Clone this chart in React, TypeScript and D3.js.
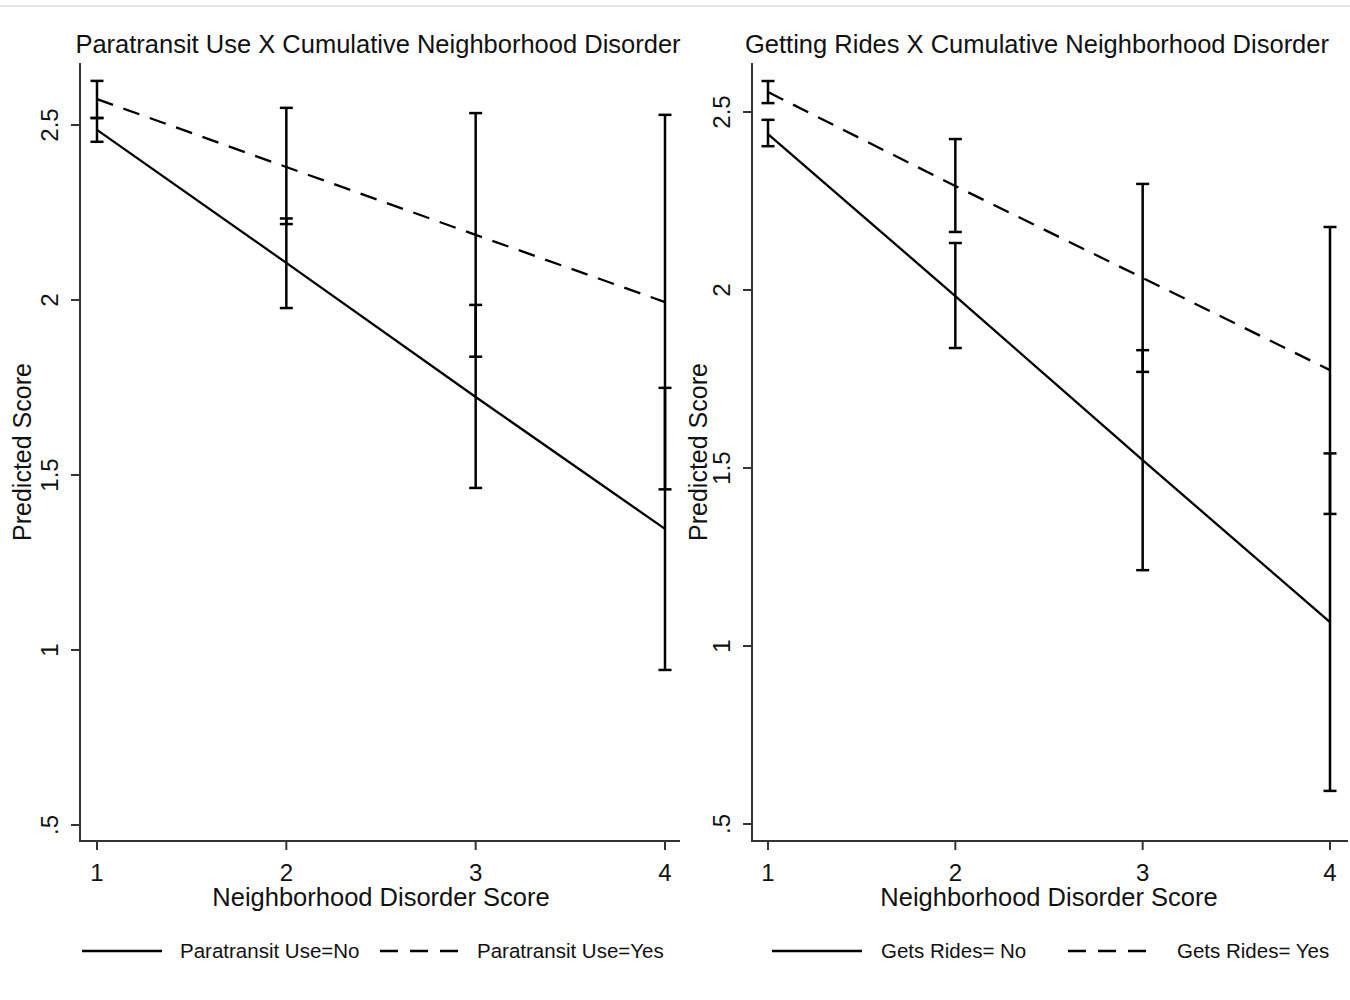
import React from "react";
import * as d3 from "d3";

// ---- Data ----
const categories = [1, 2, 3, 4];
const yTicks = [0.5, 1, 1.5, 2, 2.5];
const yTickLabels = [".5", "1", "1.5", "2", "2.5"];

// Paratransit panel
const paraNoMean = [2.486, 2.106, 1.723, 1.346];
const paraNoLow = [2.452, 1.977, 1.463, 0.943];
const paraNoHigh = [2.52, 2.233, 1.986, 1.749];
const paraYesMean = [2.574, 2.38, 2.186, 1.994];
const paraYesLow = [2.52, 2.217, 1.838, 1.459];
const paraYesHigh = [2.626, 2.549, 2.534, 2.529];

// Rides panel
const ridesNoMean = [2.438, 1.983, 1.522, 1.067];
const ridesNoLow = [2.404, 1.837, 1.213, 0.593];
const ridesNoHigh = [2.478, 2.132, 1.831, 1.541];
const ridesYesMean = [2.556, 2.292, 2.034, 1.775];
const ridesYesLow = [2.525, 2.163, 1.77, 1.371];
const ridesYesHigh = [2.587, 2.424, 2.298, 2.177];

const FONT = "'Liberation Sans', Arial, Helvetica, sans-serif";

type Series = { mean: number[]; low: number[]; high: number[]; dashed: boolean };

type PanelProps = {
  title: string;
  titleX: number;
  axisX: number;
  axisRight: number;
  xRange: [number, number];
  yRange: [number, number];
  ylabelX: number;
  yTickLabelX: number;
  xTitleX: number;
  series: Series[];
  legendLabels: string[];
  legendPos: { l1: [number, number]; t1: number; l2: [number, number]; t2: number };
};

function Panel(p: PanelProps) {
  const x = d3.scaleLinear().domain([1, 4]).range(p.xRange);
  const y = d3.scaleLinear().domain([0.5, 2.5]).range(p.yRange);
  const axisTop = 63;
  const axisBottom = 841;
  const line = d3
    .line<number>()
    .x((_, i) => x(categories[i]))
    .y((d) => y(d));
  const capW = 6.5;
  const dash = "17,11";
  return (
    <g>
      <text
        x={p.titleX}
        y={53}
        textAnchor="middle"
        fontFamily={FONT}
        fontSize={25.5}
        fill="#111"
      >
        {p.title}
      </text>
      {/* axes */}
      <line x1={p.axisX} x2={p.axisX} y1={axisTop} y2={axisBottom + 1} stroke="#333" strokeWidth={2} />
      <line x1={p.axisX - 1} x2={p.axisRight} y1={axisBottom} y2={axisBottom} stroke="#333" strokeWidth={2} />
      {yTicks.map((t, i) => (
        <g key={"yt" + i}>
          <line x1={p.axisX - 9} x2={p.axisX} y1={y(t)} y2={y(t)} stroke="#333" strokeWidth={2} />
          <text
            transform={`translate(${p.yTickLabelX},${y(t)}) rotate(-90)`}
            textAnchor="middle"
            fontFamily={FONT}
            fontSize={24}
            fill="#111"
          >
            {yTickLabels[i]}
          </text>
        </g>
      ))}
      {categories.map((c) => (
        <g key={"xt" + c}>
          <line x1={x(c)} x2={x(c)} y1={axisBottom} y2={axisBottom + 9} stroke="#333" strokeWidth={2} />
          <text x={x(c)} y={881} textAnchor="middle" fontFamily={FONT} fontSize={24} fill="#111">
            {c}
          </text>
        </g>
      ))}
      <text x={p.xTitleX} y={906} textAnchor="middle" fontFamily={FONT} fontSize={25.5} fill="#111">
        Neighborhood Disorder Score
      </text>
      <text
        transform={`translate(${p.ylabelX},452) rotate(-90)`}
        textAnchor="middle"
        fontFamily={FONT}
        fontSize={25}
        fill="#111"
      >
        Predicted Score
      </text>
      {/* series */}
      {p.series.map((s, si) => (
        <g key={"s" + si}>
          <path
            d={line(s.mean) || ""}
            fill="none"
            stroke="#000"
            strokeWidth={2.3}
            strokeDasharray={s.dashed ? dash : undefined}
          />
          {categories.map((c, i) => (
            <g key={"e" + i} stroke="#000" strokeWidth={2.5}>
              <line x1={x(c)} x2={x(c)} y1={y(s.low[i])} y2={y(s.high[i])} />
              <line x1={x(c) - capW} x2={x(c) + capW} y1={y(s.low[i])} y2={y(s.low[i])} />
              <line x1={x(c) - capW} x2={x(c) + capW} y1={y(s.high[i])} y2={y(s.high[i])} />
            </g>
          ))}
        </g>
      ))}
      {/* legend */}
      <line x1={p.legendPos.l1[0]} x2={p.legendPos.l1[1]} y1={951} y2={951} stroke="#000" strokeWidth={2.3} />
      <text x={p.legendPos.t1} y={958} fontFamily={FONT} fontSize={20.5} fill="#111">
        {p.legendLabels[0]}
      </text>
      <line
        x1={p.legendPos.l2[0]}
        x2={p.legendPos.l2[1]}
        y1={951}
        y2={951}
        stroke="#000"
        strokeWidth={2.3}
        strokeDasharray="18,12"
      />
      <text x={p.legendPos.t2} y={958} fontFamily={FONT} fontSize={20.5} fill="#111">
        {p.legendLabels[1]}
      </text>
    </g>
  );
}

export default function App() {
  return (
    <svg
      width={1350}
      height={1000}
      style={{ position: "absolute", left: 0, top: 0, background: "#fff" }}
    >
      <rect x={0} y={0} width={1350} height={1000} fill="#fff" />
      <line x1={0} x2={1350} y1={6} y2={6} stroke="#e4e8ec" strokeWidth={2} />
      <Panel
        title="Paratransit Use X Cumulative Neighborhood Disorder"
        titleX={378}
        axisX={80}
        axisRight={680}
        xRange={[97, 665]}
        yRange={[825, 125]}
        ylabelX={31}
        yTickLabelX={58}
        xTitleX={381}
        series={[
          { mean: paraNoMean, low: paraNoLow, high: paraNoHigh, dashed: false },
          { mean: paraYesMean, low: paraYesLow, high: paraYesHigh, dashed: true },
        ]}
        legendLabels={["Paratransit Use=No", "Paratransit Use=Yes"]}
        legendPos={{ l1: [82, 162], t1: 180, l2: [380, 458], t2: 477 }}
      />
      <Panel
        title="Getting Rides X Cumulative Neighborhood Disorder"
        titleX={1037}
        axisX={752}
        axisRight={1348}
        xRange={[768, 1330]}
        yRange={[824, 112]}
        ylabelX={707}
        yTickLabelX={730}
        xTitleX={1049}
        series={[
          { mean: ridesNoMean, low: ridesNoLow, high: ridesNoHigh, dashed: false },
          { mean: ridesYesMean, low: ridesYesLow, high: ridesYesHigh, dashed: true },
        ]}
        legendLabels={["Gets Rides= No", "Gets Rides= Yes"]}
        legendPos={{ l1: [772, 862], t1: 881, l2: [1068, 1147], t2: 1177 }}
      />
    </svg>
  );
}
